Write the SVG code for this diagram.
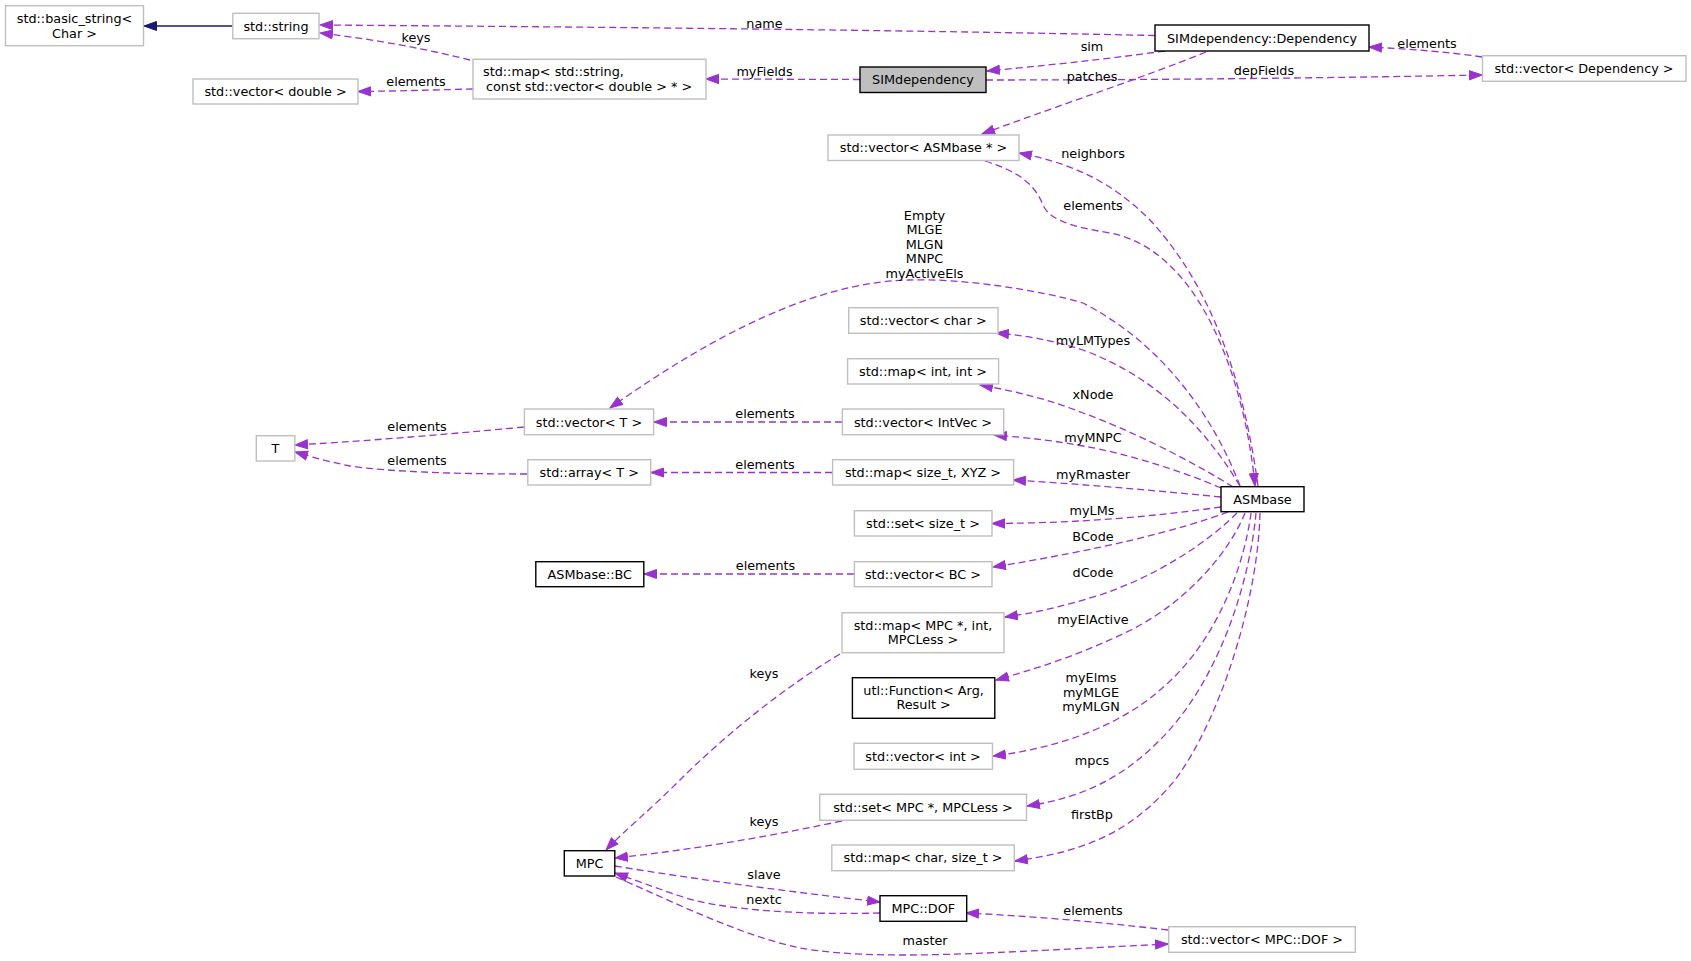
<svg xmlns="http://www.w3.org/2000/svg" width="1691" height="961" viewBox="0 0 1691 961">
<style>
.ng{fill:#fff;stroke:#bfbfbf;stroke-width:1.4}
.nb{fill:#fff;stroke:#000;stroke-width:1.4}
.ns{fill:#bfbfbf;stroke:#000;stroke-width:1.4}
text{font-family:"DejaVu Sans","Liberation Sans",sans-serif;font-size:12.8px;fill:#000}
.c{text-anchor:middle}
.e{fill:none;stroke:#9a32cd;stroke-width:1.3;stroke-dasharray:7,4;marker-end:url(#ap)}
.i{fill:none;stroke:#191970;stroke-width:1.3;marker-end:url(#an)}
</style>
<defs>
<marker id="ap" markerUnits="userSpaceOnUse" markerWidth="14" markerHeight="11" refX="13" refY="5" orient="auto" viewBox="0 0 14 10"><path d="M0.5,0.5 L13,5 L0.5,9.5 z" fill="#9a32cd" stroke="#9a32cd"/></marker>
<marker id="an" markerUnits="userSpaceOnUse" markerWidth="14" markerHeight="11" refX="13" refY="5" orient="auto" viewBox="0 0 14 10"><path d="M0.5,0.5 L13,5 L0.5,9.5 z" fill="#191970" stroke="#191970"/></marker>
</defs>
<rect x="0" y="0" width="1691" height="961" fill="#fff"/>
<g id="edges">
<path class="i" d="M232.8,26 L144,26"/>
<path class="e" d="M1155,35.5 C900,30 600,27 320,25"/>
<path class="e" d="M470,60 C430,50 380,40 320,33"/>
<path class="e" d="M473,89 C430,90 400,91 358,91.5"/>
<path class="e" d="M860,79.5 L706,79"/>
<path class="e" d="M1165,51 C1100,60 1040,66 987,71"/>
<path class="e" d="M986,80 C1150,80 1330,78 1482,75"/>
<path class="e" d="M1482,57 C1450,52 1410,49 1369,47"/>
<path class="e" d="M1206,52 C1150,75 1060,105 982,134"/>
<path class="e" d="M1258,486 C1245,390 1215,290 1150,220 C1110,180 1070,163 1019,153"/>
<path class="e" d="M985,161 C1020,172 1035,185 1043,205 C1050,222 1080,228 1110,233 C1200,250 1245,380 1255,486"/>
<path class="e" d="M1240,486 C1215,420 1165,345 1083,303 C1040,290 960,278 909,280 C820,282 720,330 610,408"/>
<path class="e" d="M1240,486 C1200,420 1150,375 1083,350 C1050,340 1030,336 996,333"/>
<path class="e" d="M1233,487 C1190,460 1130,430 1083,413 C1050,400 1020,392 980,385"/>
<path class="e" d="M1221,488 C1180,470 1120,452 1083,446 C1050,440 1030,438 994,435"/>
<path class="e" d="M1221,497 C1150,490 1080,484 1013,480"/>
<path class="e" d="M1221,507 C1150,517 1080,523 992,523.5"/>
<path class="e" d="M1228,512 C1180,530 1100,550 993,567"/>
<path class="e" d="M1237,513 C1210,540 1160,575 1100,595 C1060,607 1040,612 1005,617"/>
<path class="e" d="M1245,513 C1230,550 1190,600 1131,630 C1090,650 1050,665 996,680"/>
<path class="e" d="M1251,513 C1245,560 1220,640 1160,690 C1120,725 1060,748 993,756"/>
<path class="e" d="M1256,513 C1250,580 1220,680 1160,740 C1120,780 1080,798 1027,806"/>
<path class="e" d="M1260,513 C1258,600 1220,720 1175,780 C1130,835 1080,852 1015,861"/>
<path class="e" d="M842,422 L654,422"/>
<path class="e" d="M832,472.5 L651,472.5"/>
<path class="e" d="M524,427 C450,434 380,440 295,445"/>
<path class="e" d="M527,474 C460,474 390,472 350,466 C330,462 315,458 295,452"/>
<path class="e" d="M854,574 L644,574"/>
<path class="e" d="M840,654 C780,690 720,740 680,780 C650,810 625,830 606,850"/>
<path class="e" d="M842,821 C760,838 690,850 615,858"/>
<path class="e" d="M615,866 C700,880 800,893 880,902"/>
<path class="e" d="M880,913 C800,915 720,910 680,896 C650,886 635,880 615,873"/>
<path class="e" d="M616,877 C680,905 740,935 800,948 C880,962 1000,952 1168,944"/>
<path class="e" d="M1168,930 C1100,922 1030,916 966,913"/>
<text class="c" x="764.5" y="28">name</text>
<text class="c" x="416" y="41.5">keys</text>
<text class="c" x="416" y="86">elements</text>
<text class="c" x="764.5" y="75.5">myFields</text>
<text class="c" x="1092" y="51">sim</text>
<text class="c" x="1092" y="81">patches</text>
<text class="c" x="1264" y="74.5">depFields</text>
<text class="c" x="1427" y="48">elements</text>
<text class="c" x="1093" y="158">neighbors</text>
<text class="c" x="1093" y="210">elements</text>
<text class="c" x="924.5" y="219.5">Empty</text>
<text class="c" x="924.5" y="234.1">MLGE</text>
<text class="c" x="924.5" y="248.7">MLGN</text>
<text class="c" x="924.5" y="263.3">MNPC</text>
<text class="c" x="924.5" y="277.9">myActiveEls</text>
<text class="c" x="1093" y="345">myLMTypes</text>
<text class="c" x="1093" y="399">xNode</text>
<text class="c" x="1093" y="442">myMNPC</text>
<text class="c" x="1093" y="479">myRmaster</text>
<text class="c" x="1092" y="515">myLMs</text>
<text class="c" x="1093" y="540.5">BCode</text>
<text class="c" x="1093" y="577">dCode</text>
<text class="c" x="1093" y="623.5">myElActive</text>
<text class="c" x="1091" y="682">myElms</text>
<text class="c" x="1091" y="696.6">myMLGE</text>
<text class="c" x="1091" y="711.2">myMLGN</text>
<text class="c" x="1092" y="765">mpcs</text>
<text class="c" x="1092" y="819">firstBp</text>
<text class="c" x="765" y="418">elements</text>
<text class="c" x="765" y="469">elements</text>
<text class="c" x="417" y="431">elements</text>
<text class="c" x="417" y="465">elements</text>
<text class="c" x="765.5" y="570">elements</text>
<text class="c" x="764" y="678">keys</text>
<text class="c" x="764" y="826">keys</text>
<text class="c" x="764" y="879">slave</text>
<text class="c" x="764" y="903.5">nextc</text>
<text class="c" x="1093" y="915">elements</text>
<text class="c" x="925" y="945">master</text>
</g>
<g id="n_basic"><rect class="ng" x="5.5" y="5.7" width="138" height="40"/><text class="c" x="74.5" y="23">std::basic_string&lt;</text><text class="c" x="74.5" y="37.5">Char &gt;</text></g>
<g id="n_string"><rect class="ng" x="232.8" y="13.3" width="86.2" height="25.4"/><text class="c" x="276" y="30.5">std::string</text></g>
<g id="n_vecdouble"><rect class="ng" x="193" y="79" width="165" height="25"/><text class="c" x="275.5" y="96">std::vector&lt; double &gt;</text></g>
<g id="n_mapstr"><rect class="ng" x="473" y="59.3" width="233" height="39.7"/><text x="483" y="75.5">std::map&lt; std::string,</text><text x="486" y="90.5">const std::vector&lt; double &gt; * &gt;</text></g>
<g id="n_simdep"><rect class="ns" x="860" y="67" width="126" height="25.5"/><text class="c" x="923" y="84">SIMdependency</text></g>
<g id="n_dep"><rect class="nb" x="1155" y="25" width="214" height="26"/><text class="c" x="1262" y="42.5">SIMdependency::Dependency</text></g>
<g id="n_vecdep"><rect class="ng" x="1482.5" y="55.7" width="203.5" height="25.6"/><text class="c" x="1584" y="73">std::vector&lt; Dependency &gt;</text></g>
<g id="n_vecasm"><rect class="ng" x="828" y="135" width="191" height="25.5"/><text class="c" x="923.5" y="152">std::vector&lt; ASMbase * &gt;</text></g>
<g id="n_vecchar"><rect class="ng" x="848.7" y="307.7" width="149.3" height="25.6"/><text class="c" x="923.3" y="325">std::vector&lt; char &gt;</text></g>
<g id="n_mapint"><rect class="ng" x="847.6" y="358.7" width="151" height="25.3"/><text class="c" x="923" y="376">std::map&lt; int, int &gt;</text></g>
<g id="n_vecintvec"><rect class="ng" x="842.4" y="409" width="161.3" height="25.7"/><text class="c" x="923" y="426.5">std::vector&lt; IntVec &gt;</text></g>
<g id="n_vecT"><rect class="ng" x="524.4" y="409" width="129.2" height="25.7"/><text class="c" x="589" y="426.5">std::vector&lt; T &gt;</text></g>
<g id="n_T"><rect class="ng" x="256.3" y="435.7" width="38.5" height="25.3"/><text class="c" x="275.5" y="453">T</text></g>
<g id="n_arrT"><rect class="ng" x="527.8" y="459.7" width="122.9" height="25.3"/><text class="c" x="589.2" y="477">std::array&lt; T &gt;</text></g>
<g id="n_mapxyz"><rect class="ng" x="832.6" y="459.7" width="181" height="25.3"/><text class="c" x="923" y="477">std::map&lt; size_t, XYZ &gt;</text></g>
<g id="n_asm"><rect class="nb" x="1221" y="486.7" width="83" height="25"/><text class="c" x="1262.5" y="503.7">ASMbase</text></g>
<g id="n_setsize"><rect class="ng" x="854.4" y="510.7" width="137.6" height="25.3"/><text class="c" x="923" y="528">std::set&lt; size_t &gt;</text></g>
<g id="n_bc"><rect class="nb" x="535.8" y="561.7" width="108" height="25"/><text class="c" x="589.8" y="578.7">ASMbase::BC</text></g>
<g id="n_vecbc"><rect class="ng" x="854.4" y="561.7" width="137.6" height="25"/><text class="c" x="923" y="578.7">std::vector&lt; BC &gt;</text></g>
<g id="n_mapmpc"><rect class="ng" x="842" y="612.7" width="162" height="40"/><text class="c" x="923" y="629.5">std::map&lt; MPC *, int,</text><text class="c" x="923" y="644">MPCLess &gt;</text></g>
<g id="n_func"><rect class="nb" x="852.4" y="677.7" width="142.4" height="40.6"/><text class="c" x="923.6" y="694.5">utl::Function&lt; Arg,</text><text class="c" x="923.6" y="709">Result &gt;</text></g>
<g id="n_vecint"><rect class="ng" x="854" y="743.3" width="138.5" height="26"/><text class="c" x="923" y="760.8">std::vector&lt; int &gt;</text></g>
<g id="n_setmpc"><rect class="ng" x="819.7" y="794.3" width="206.8" height="26"/><text class="c" x="923" y="811.8">std::set&lt; MPC *, MPCLess &gt;</text></g>
<g id="n_mapchar"><rect class="ng" x="831.8" y="845" width="182.5" height="25.7"/><text class="c" x="923" y="862.3">std::map&lt; char, size_t &gt;</text></g>
<g id="n_mpc"><rect class="nb" x="564.3" y="850.7" width="50.5" height="25.3"/><text class="c" x="589.5" y="868">MPC</text></g>
<g id="n_dof"><rect class="nb" x="880" y="895.7" width="86.7" height="25.6"/><text class="c" x="923.3" y="913">MPC::DOF</text></g>
<g id="n_vecdof"><rect class="ng" x="1168.7" y="926.7" width="186.6" height="25.6"/><text class="c" x="1262" y="944">std::vector&lt; MPC::DOF &gt;</text></g>
</svg>
